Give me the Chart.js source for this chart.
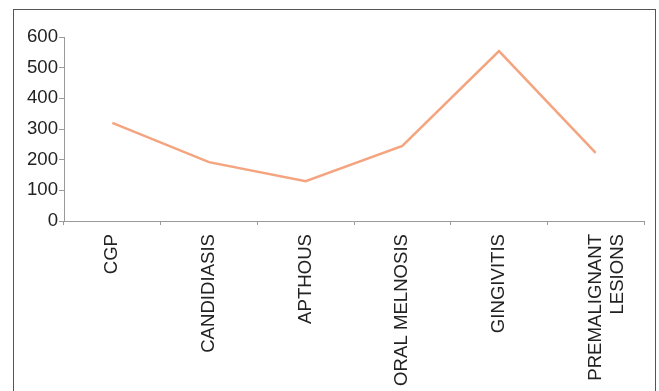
<!DOCTYPE html>
<html>
<head>
<meta charset="utf-8">
<script src="https://cdn.jsdelivr.net/npm/chart.js@4"></script>
<style>
    html, body { margin: 0; padding: 0; background: #fff; overflow: hidden; }
    #wrap { position: relative; width: 659px; height: 391px; }
    #frame {
        position: absolute; left: 13px; top: 9px; width: 641px; height: 400px;
        border: 1px solid #555; border-bottom: none; pointer-events: none;
    }
    canvas { position: absolute; left: 0; top: 0; }
</style>
</head>
<body>
<div id="wrap">
    <canvas id="chart" width="659" height="391"></canvas>
    <div id="frame"></div>
</div>
<script>
// Categories and values
const categories = ['CGP', 'CANDIDIASIS', 'APTHOUS', 'ORAL MELNOSIS', 'GINGIVITIS', ['PREMALIGNANT', 'LESIONS']];
const cases = [320, 192, 130, 245, 554, 222];
const yTicks = [0, 100, 200, 300, 400, 500, 600];

const axisColor = '#9a9a9a';
const textColor = '#222';
const font = { family: '"Liberation Sans", Arial, sans-serif', size: 18.6 };

new Chart(document.getElementById('chart').getContext('2d'), {
    type: 'line',
    data: {
        labels: categories,
        datasets: [{
            data: cases,
            borderColor: '#f4a47f',
            borderWidth: 2.5,
            pointRadius: 0,
            tension: 0,
            fill: false
        }]
    },
    options: {
        responsive: false,
        animation: false,
        layout: { padding: { left: 13, right: 15, top: 37, bottom: 0 } },
        plugins: { legend: { display: false }, tooltip: { enabled: false } },
        scales: {
            x: {
                type: 'category',
                offset: true,
                grid: { offset: true, drawOnChartArea: false, drawTicks: true, tickLength: 4, color: axisColor },
                border: { display: true, color: axisColor, width: 1 },
                ticks: { color: textColor, font: font, minRotation: 90, maxRotation: 90, padding: 9, autoSkip: false },
                afterFit: scale => { scale.height = 170; }
            },
            y: {
                min: 0,
                max: 600,
                afterBuildTicks: scale => { scale.ticks = yTicks.map(v => ({ value: v })); },
                grid: { drawOnChartArea: false, drawTicks: true, tickLength: 5, color: axisColor },
                border: { display: true, color: axisColor, width: 1 },
                ticks: { color: textColor, font: font, padding: 1 },
                afterFit: scale => { scale.width = 51; }
            }
        }
    }
});
</script>
</body>
</html>
